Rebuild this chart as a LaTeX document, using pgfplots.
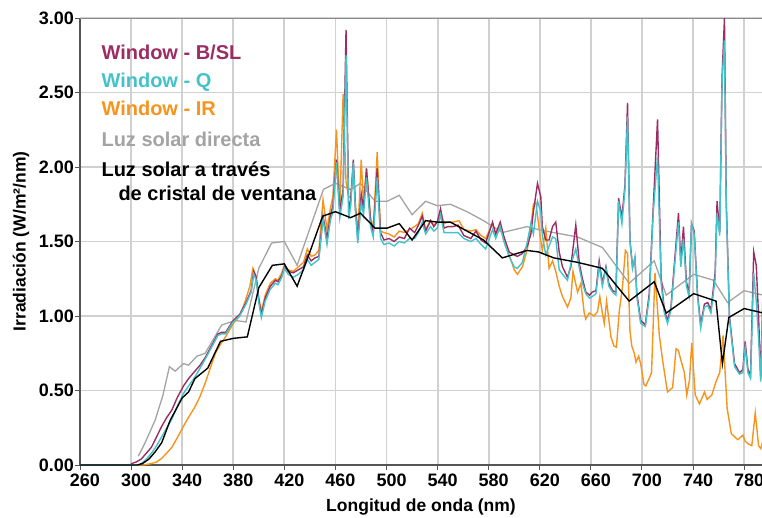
\documentclass[border=0pt]{standalone}
\usepackage{pgfplots}
\pgfplotsset{compat=1.18}
\usepackage{fontspec}
\setmainfont{Liberation Sans}
\setsansfont{Liberation Sans}
\definecolor{cpur}{RGB}{155,45,100}
\definecolor{cteal}{RGB}{68,194,202}
\definecolor{corange}{RGB}{247,148,29}
\definecolor{cgray}{RGB}{163,163,163}
\definecolor{cgrid}{RGB}{208,208,208}
\definecolor{caxis}{RGB}{85,85,85}

\begin{document}
\begin{tikzpicture}
\path[use as bounding box] (-80pt,-52pt) rectangle (682pt,465pt);
\begin{axis}[
  scale only axis,
  width=682pt, height=447pt,
  xmin=260, xmax=794, ymin=0, ymax=3,
  axis x line=bottom, axis y line=left,
  axis line style={-, color=caxis, line width=2pt},
  xtick={260,300,...,780},
  ytick={0,0.5,1,1.5,2,2.5,3},
  tick align=outside,
  major tick length=5pt,
  tick style={color=caxis, line width=1pt},
  grid=major,
  x grid style={color=cgrid, line width=1.8pt},
  y grid style={color=cgrid, line width=1.3pt},
  /pgf/number format/assume math mode=true,
  ticklabel style={font=\fontsize{18}{18}\selectfont\bfseries},
  xticklabel style={xshift=5pt},
  yticklabel style={/pgf/number format/fixed, /pgf/number format/precision=2, /pgf/number format/fixed zerofill, inner xsep=1pt},
  xlabel={Longitud de onda (nm)},
  ylabel={Irradiación (W/m²/nm)},
  xlabel style={yshift=-6pt},
  ylabel style={yshift=5pt},
  label style={font=\fontsize{17.5}{17.5}\selectfont\bfseries},
  every plot/.append style={line join=round, no markers},
]
\draw[color=gray!90, line width=1pt] (rel axis cs:0,1) -- (rel axis cs:1,1);

% Luz solar directa
\addplot[color=cgray, line width=1.3pt] coordinates {
(305.7,0.06)(311,0.15)(318.8,0.30)(325,0.47)(330,0.66)(334.5,0.63)(341,0.68)(345,0.67)(351.5,0.73)(358,0.75)(371,0.94)(381.6,0.97)(390,0.96)(400,1.32)(410,1.49)(420,1.50)(430,1.34)(450.6,1.85)(460,1.89)(471.8,1.85)(479.6,1.89)(491,1.77)(500.5,1.77)(510,1.81)(520,1.68)(530.6,1.77)(539.8,1.74)(550,1.75)(563,1.70)(576,1.64)(590.7,1.56)(610,1.60)(619,1.58)(631,1.56)(649.6,1.53)(669,1.46)(690,1.22)(709.6,1.37)(719,1.14)(740.5,1.28)(756,1.24)(767,1.09)(780,1.17)(795,1.14)
};

% Window - IR
\addplot[color=corange, line width=1.4pt] coordinates {
(260,0)(310,0)(316,0.01)(320,0.02)(324,0.045)(328,0.08)(332,0.12)(336,0.18)(341,0.26)(345,0.32)(350,0.39)(354,0.46)(358,0.55)(362,0.65)(366,0.75)(370,0.81)(374,0.86)(380,0.95)(385,1.00)(389,1.09)(393,1.20)(395.4,1.32)(398,1.26)(400,1.12)(402,1.03)(405,1.14)(409,1.22)(413,1.25)(415,1.24)(418,1.29)(420,1.34)(423,1.31)(427,1.30)(431,1.33)(435,1.36)(438,1.45)(441,1.40)(444,1.41)(447,1.44)(450.3,1.78)(453.4,1.58)(456,1.72)(458,1.80)(460.8,2.25)(463.4,1.71)(466,2.49)(468.3,1.90)(470.4,1.80)(472,1.80)(474,1.98)(475.7,1.72)(477.5,1.55)(480.2,2.05)(482,1.75)(484.3,1.99)(487.5,1.66)(489.6,1.58)(492.7,2.10)(495.3,1.57)(498,1.56)(502,1.55)(506,1.53)(510,1.57)(514,1.56)(518,1.58)(522,1.60)(525,1.62)(528,1.69)(530.6,1.58)(534.5,1.64)(537,1.61)(539.7,1.63)(542.3,1.70)(545,1.62)(548,1.63)(552,1.63)(556.7,1.64)(560.6,1.58)(566,1.57)(570,1.58)(574,1.54)(577.6,1.52)(583,1.62)(585.5,1.55)(589,1.60)(592,1.50)(596,1.41)(600,1.31)(602.5,1.28)(606.4,1.33)(610.3,1.45)(613,1.60)(615,1.75)(617,1.76)(620,1.55)(622,1.44)(624.7,1.59)(627.3,1.32)(630,1.37)(632.5,1.30)(635.2,1.20)(637.8,1.13)(641.7,1.06)(644.3,1.12)(646,1.30)(649.6,1.16)(652.2,1.22)(654.8,1.02)(656,0.98)(658.7,1.02)(662.6,1.00)(665.2,1.03)(667,1.13)(669,1.02)(670.5,0.95)(672.3,1.10)(675.7,0.86)(678,0.80)(680,0.79)(682.2,1.03)(684.8,1.20)(687,1.44)(688.7,1.42)(690.6,0.90)(692,0.80)(694,0.75)(695.3,0.69)(697.4,0.73)(699,0.68)(701.6,0.54)(703,0.53)(705.6,0.58)(707.5,0.62)(710.2,1.29)(713.6,0.87)(716.2,0.70)(720,0.49)(724,0.52)(726.7,0.78)(728.5,0.77)(730.6,0.70)(733.2,0.62)(735.1,0.47)(737.2,0.57)(739,0.82)(741.7,0.47)(745,0.41)(749,0.49)(751,0.44)(754.7,0.47)(758,0.56)(760.9,0.62)(763.5,0.87)(766.7,0.38)(770,0.21)(775,0.17)(779,0.20)(780.8,0.16)(783.5,0.14)(786,0.13)(788.7,0.35)(791.3,0.13)(793,0.11)(795,0.17)
};

% Window - B/SL
\addplot[color=cpur, line width=1.4pt] coordinates {
(260,0)(300,0)(300.5,0.01)(304,0.02)(308,0.04)(312,0.08)(316,0.12)(320,0.19)(324,0.26)(328,0.32)(332,0.37)(336,0.45)(341,0.53)(345,0.58)(350,0.63)(354,0.67)(358,0.72)(363,0.80)(368,0.88)(371,0.89)(374,0.89)(377,0.93)(380,0.97)(385,1.01)(390,1.09)(394,1.17)(396,1.30)(398,1.26)(400,1.11)(402,1.01)(405,1.12)(409,1.20)(413,1.24)(415,1.23)(418,1.27)(420,1.33)(423,1.30)(427,1.29)(431,1.31)(435,1.33)(438,1.41)(441,1.37)(444,1.39)(447,1.40)(450.3,1.67)(453.4,1.52)(456,1.67)(458,1.74)(460.8,2.05)(463.4,1.71)(466,1.85)(468.3,2.92)(470.4,1.69)(472,1.78)(474,2.05)(475.7,1.73)(477.5,1.51)(480.2,1.82)(482,1.72)(484.3,1.99)(487.5,1.64)(489.6,1.56)(492.7,1.99)(495.3,1.56)(498,1.51)(502,1.52)(506,1.50)(510,1.53)(514,1.52)(518,1.59)(522,1.56)(525,1.61)(528,1.67)(530.6,1.57)(534.5,1.64)(537,1.60)(539.7,1.63)(542.3,1.72)(545,1.59)(548,1.60)(552,1.60)(556,1.61)(560.6,1.54)(566,1.52)(570,1.57)(574,1.51)(577.6,1.49)(583,1.63)(585.5,1.55)(589,1.63)(592,1.53)(596,1.43)(600,1.41)(602.5,1.40)(606.4,1.42)(610.3,1.47)(613,1.55)(615,1.70)(618.2,1.89)(620.8,1.80)(622,1.60)(624.7,1.51)(627.3,1.51)(630,1.60)(632.5,1.63)(635.2,1.43)(637.8,1.33)(641.7,1.26)(644.3,1.33)(648.2,1.61)(651,1.35)(653.4,1.25)(656,1.16)(659,1.14)(661,1.16)(664,1.17)(666.5,1.37)(669,1.22)(671.8,1.33)(674,1.22)(677,1.17)(679.6,1.16)(681.7,1.79)(684.3,1.66)(686.7,1.88)(688.7,2.43)(690.6,1.51)(692.6,1.33)(694.5,1.38)(696,1.15)(699,0.97)(702.6,0.94)(705.7,1.15)(708.9,1.74)(712.2,2.32)(715,1.26)(717.5,1.04)(720,0.97)(722.7,1.06)(725.2,1.33)(728.6,1.69)(730.4,1.36)(732.5,1.60)(734.8,1.23)(736.9,1.15)(738.8,1.62)(740.9,1.57)(743.5,1.15)(746,0.94)(748.9,1.08)(751.5,1.09)(754,1.04)(757.3,1.29)(758.8,1.77)(760.9,1.56)(762.7,2.60)(764.6,3.00)(766,1.77)(768.5,1.00)(772.5,0.68)(776.4,0.62)(779,0.64)(780.8,0.83)(783,0.64)(785,0.60)(787.5,1.43)(789.5,1.34)(791.3,1.00)(793,0.58)(795,1.25)
};

% Window - Q
\addplot[color=cteal, line width=1.4pt] coordinates {
(260,0)(305,0)(308,0.01)(312,0.04)(316,0.08)(320,0.13)(324,0.19)(328,0.25)(332,0.31)(336,0.39)(341,0.48)(345,0.53)(350,0.59)(354,0.65)(358,0.71)(363,0.79)(368,0.87)(371,0.88)(374,0.88)(377,0.92)(380,0.96)(385,1.00)(390,1.08)(394,1.16)(396,1.28)(398,1.24)(400,1.09)(402,0.99)(405,1.10)(409,1.18)(413,1.22)(415,1.21)(418,1.26)(420,1.32)(423,1.28)(427,1.26)(431,1.28)(435,1.31)(438,1.38)(441,1.34)(444,1.36)(447,1.38)(450.3,1.65)(453.4,1.48)(456,1.64)(458,1.70)(460.8,2.03)(463.4,1.66)(466,1.80)(468.3,2.75)(470.4,1.65)(472,1.74)(474,2.03)(475.7,1.70)(477.5,1.49)(480.2,1.76)(482,1.68)(484.3,1.93)(487.5,1.60)(489.6,1.53)(492.7,1.93)(495.3,1.52)(498,1.48)(502,1.49)(506,1.47)(510,1.50)(514,1.49)(518,1.52)(522,1.52)(525,1.56)(528,1.63)(530.6,1.55)(534.5,1.60)(537,1.57)(539.7,1.59)(542.3,1.68)(545,1.56)(548,1.56)(552,1.56)(556,1.56)(560.6,1.52)(566,1.50)(570,1.52)(574,1.48)(577.6,1.45)(583,1.58)(585.5,1.52)(589,1.60)(592,1.50)(596,1.40)(600,1.33)(602.5,1.32)(606.4,1.36)(610.3,1.50)(613,1.62)(615,1.55)(618.2,1.77)(620.8,1.70)(622,1.54)(624.7,1.41)(627.3,1.47)(630,1.53)(632.5,1.52)(635.2,1.31)(637.8,1.28)(641.7,1.24)(644.3,1.35)(646,1.39)(648.2,1.45)(651,1.32)(653.4,1.22)(656,1.15)(659,1.12)(661,1.13)(664,1.15)(666.5,1.34)(669,1.20)(671.8,1.32)(674,1.20)(677,1.16)(679.6,1.14)(681.7,1.77)(684.3,1.62)(686.7,1.85)(688.7,2.34)(690.6,1.50)(692.6,1.32)(694.5,1.40)(696,1.13)(699,0.95)(702.6,0.93)(705.7,1.12)(708.9,1.70)(712.2,2.07)(715,1.22)(717.5,1.02)(720,0.95)(722.7,1.04)(725.2,1.30)(728.6,1.63)(730.4,1.33)(732.5,1.52)(734.8,1.20)(736.9,1.13)(738.8,1.62)(740.9,1.55)(743.5,1.13)(746,0.92)(748.9,1.06)(751.5,1.07)(754,1.02)(757.3,1.25)(758.8,1.69)(760.9,1.54)(762.7,2.57)(764.6,2.85)(766,1.74)(768.5,0.98)(772.5,0.66)(776.4,0.61)(779,0.62)(780.8,0.79)(783,0.62)(785,0.58)(787.5,1.29)(789.5,1.10)(791.3,0.85)(793,0.56)(795,1.20)
};

% Luz solar a traves de cristal
\addplot[color=black, line width=1.4pt] coordinates {
(260,0)(305,0)(309,0.01)(314,0.04)(319,0.09)(324,0.15)(330.6,0.30)(340,0.45)(345,0.49)(350,0.58)(360,0.65)(370,0.83)(380,0.85)(391,0.86)(400,1.19)(410.6,1.34)(420,1.35)(430,1.20)(440,1.43)(450,1.67)(460,1.70)(471.8,1.66)(479.6,1.69)(491,1.59)(500.5,1.59)(510,1.62)(520,1.51)(530.6,1.64)(539.8,1.63)(550,1.63)(563,1.57)(576,1.51)(590.7,1.39)(610,1.44)(619,1.43)(631,1.39)(649.6,1.36)(669,1.32)(690,1.10)(709.6,1.23)(719,1.02)(740.5,1.15)(758,1.10)(763,0.68)(768,0.99)(780,1.05)(795,1.02)
};

\node[anchor=base west, text=cpur, font=\fontsize{20}{20}\selectfont\bfseries] at (rel axis cs:0.0264,0.9076) {Window - B/SL};
\node[anchor=base west, text=cteal, font=\fontsize{20}{20}\selectfont\bfseries] at (rel axis cs:0.0264,0.845) {Window - Q};
\node[anchor=base west, text=corange, font=\fontsize{20}{20}\selectfont\bfseries] at (rel axis cs:0.0264,0.7808) {Window - IR};
\node[anchor=base west, text=cgray, font=\fontsize{20}{20}\selectfont\bfseries] at (rel axis cs:0.0264,0.712) {Luz solar directa};
\node[anchor=base west, text=black, font=\fontsize{20}{20}\selectfont\bfseries] at (rel axis cs:0.0264,0.6465) {Luz solar a través};
\node[anchor=base west, text=black, font=\fontsize{20}{20}\selectfont\bfseries] at (rel axis cs:0.0513,0.591) {de cristal de ventana};
\end{axis}
\end{tikzpicture}
\end{document}
